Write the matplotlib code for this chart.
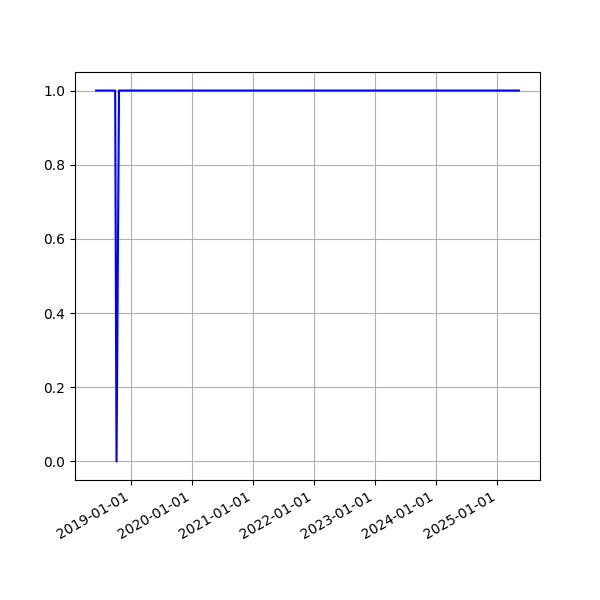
import pandas as pd
import matplotlib
matplotlib.use("Agg")
import matplotlib.pyplot as plt
import matplotlib.dates as mdates

# status series (1 = up, 0 = down)
dates = pd.to_datetime(["2018-06-05", "2018-09-27", "2018-10-05", "2018-10-20", "2025-05-10"])
values = [1.0, 1.0, 0.0, 1.0, 1.0]

fig, ax = plt.subplots(figsize=(6, 6), dpi=100)
ax.plot(dates, values, color="blue")
ax.xaxis.set_major_locator(mdates.YearLocator())
ax.xaxis.set_major_formatter(mdates.DateFormatter("%Y-%m-%d"))
ax.grid(True)
fig.autofmt_xdate()
fig.savefig("out.png")
